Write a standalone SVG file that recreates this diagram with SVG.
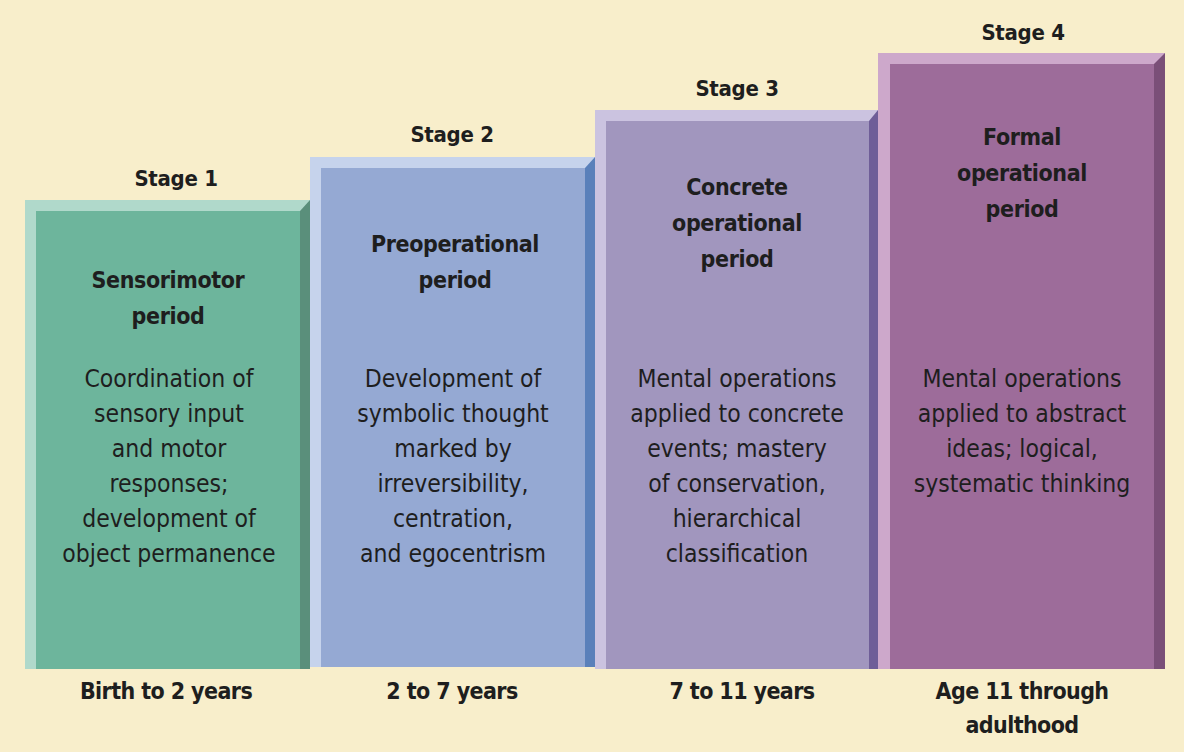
<svg xmlns="http://www.w3.org/2000/svg" width="1184" height="752" viewBox="0 0 1184 752">
<style>
text{font-family:"DejaVu Sans Condensed","Liberation Sans",sans-serif;fill:#1e1e1e;text-anchor:middle}
.st{font-size:22px;font-weight:bold;letter-spacing:-0.3px}
.ti{font-size:23px;font-weight:bold;letter-spacing:-0.4px}
.de{font-size:24.5px}
.ag{font-size:23px;font-weight:bold;letter-spacing:-0.6px}
</style>
<rect width="1184" height="752" fill="#f8eecb"/>
<g id="bar1">
<rect x="25" y="200" width="285" height="469" fill="#b0d9cb"/>
<rect x="36" y="211" width="264" height="458" fill="#6db59c"/>
<polygon points="310,200 310,669 300,669 300,211" fill="#5a8f7b"/>
<text class="st" x="176" y="186">Stage 1</text>
<text class="ti" x="168" y="288">Sensorimotor</text>
<text class="ti" x="168" y="324">period</text>
<text class="de" x="169" y="387">Coordination of</text>
<text class="de" x="169" y="422">sensory input</text>
<text class="de" x="169" y="457">and motor</text>
<text class="de" x="169" y="492">responses;</text>
<text class="de" x="169" y="527">development of</text>
<text class="de" x="169" y="562">object permanence</text>
<text class="ag" x="166" y="699">Birth to 2 years</text>
</g>
<g id="bar2">
<rect x="310" y="157" width="285" height="510" fill="#c6d3ec"/>
<rect x="321" y="168" width="264" height="499" fill="#95a9d3"/>
<polygon points="595,157 595,667 585,667 585,168" fill="#5a80ba"/>
<text class="st" x="452" y="142">Stage 2</text>
<text class="ti" x="455" y="252">Preoperational</text>
<text class="ti" x="455" y="288">period</text>
<text class="de" x="453" y="387">Development of</text>
<text class="de" x="453" y="422">symbolic thought</text>
<text class="de" x="453" y="457">marked by</text>
<text class="de" x="453" y="492">irreversibility,</text>
<text class="de" x="453" y="527">centration,</text>
<text class="de" x="453" y="562">and egocentrism</text>
<text class="ag" x="452" y="699">2 to 7 years</text>
</g>
<g id="bar3">
<rect x="595" y="110" width="283" height="559" fill="#cbc3e0"/>
<rect x="606" y="121" width="263" height="548" fill="#a196be"/>
<polygon points="878,110 878,669 869,669 869,121" fill="#6f5e98"/>
<text class="st" x="737" y="96">Stage 3</text>
<text class="ti" x="737" y="195">Concrete</text>
<text class="ti" x="737" y="231">operational</text>
<text class="ti" x="737" y="267">period</text>
<text class="de" x="737" y="387">Mental operations</text>
<text class="de" x="737" y="422">applied to concrete</text>
<text class="de" x="737" y="457">events; mastery</text>
<text class="de" x="737" y="492">of conservation,</text>
<text class="de" x="737" y="527">hierarchical</text>
<text class="de" x="737" y="562">classification</text>
<text class="ag" x="742" y="699">7 to 11 years</text>
</g>
<g id="bar4">
<rect x="878" y="53" width="287" height="616" fill="#cda8cb"/>
<rect x="890" y="64" width="264" height="605" fill="#9d6c9a"/>
<polygon points="1165,53 1165,669 1154,669 1154,64" fill="#7a4f78"/>
<text class="st" x="1023" y="40">Stage 4</text>
<text class="ti" x="1022" y="145">Formal</text>
<text class="ti" x="1022" y="181">operational</text>
<text class="ti" x="1022" y="217">period</text>
<text class="de" x="1022" y="387">Mental operations</text>
<text class="de" x="1022" y="422">applied to abstract</text>
<text class="de" x="1022" y="457">ideas; logical,</text>
<text class="de" x="1022" y="492">systematic thinking</text>
<text class="ag" x="1022" y="699">Age 11 through</text>
<text class="ag" x="1022" y="733">adulthood</text>
</g>
<g id="connectors"/>
</svg>
